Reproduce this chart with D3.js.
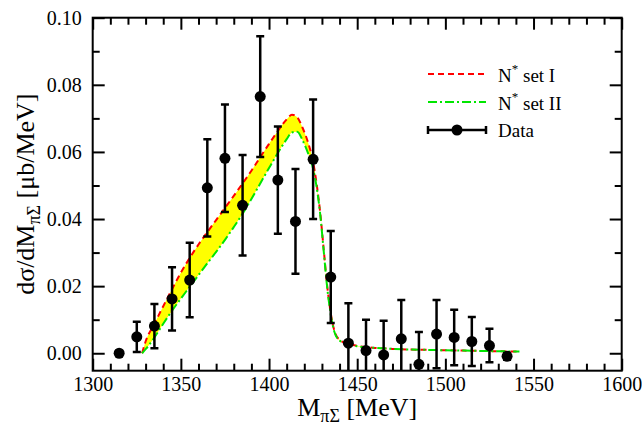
<!DOCTYPE html>
<html>
<head>
<meta charset="utf-8">
<script src="https://cdn.jsdelivr.net/npm/d3@7"></script>
<style>
  html, body { margin: 0; padding: 0; background: #fff; }
  svg { display: block; }
  svg text { font-family: "Liberation Serif", "Times New Roman", serif; fill: #000; }
</style>
</head>
<body>
<svg id="chart" width="642" height="433"></svg>
<script>
// Invariant-mass grid for the model curves (MeV)
const massGrid = [1328, 1330, 1335, 1340, 1345, 1350, 1355, 1360, 1365, 1370, 1375, 1380, 1385,
  1390, 1395, 1400, 1405, 1410, 1413, 1416, 1419, 1422, 1425, 1427, 1429, 1431, 1433, 1435,
  1437, 1440, 1445, 1450, 1460, 1470, 1480, 1490, 1500, 1510, 1520, 1530, 1542];

// N* set I (upper edge of the band)
const setI = [0, 0.0035, 0.0088, 0.0140, 0.0191, 0.0240, 0.0284, 0.0324, 0.0361, 0.0397, 0.0433,
  0.0469, 0.0506, 0.0544, 0.0584, 0.0624, 0.0662, 0.0697, 0.0711, 0.0703, 0.0672, 0.0630, 0.0570,
  0.0505, 0.0420, 0.0310, 0.0200, 0.0120, 0.0068, 0.0040, 0.0028, 0.0022, 0.0016, 0.0013, 0.0011,
  0.0010, 0.0009, 0.0008, 0.0007, 0.0006, 0.0005];

// N* set II (lower edge of the band)
const setII = [0, 0.0012, 0.0047, 0.0088, 0.0127, 0.0163, 0.0198, 0.0233, 0.0268, 0.0302, 0.0338,
  0.0376, 0.0416, 0.0460, 0.0506, 0.0552, 0.0597, 0.0638, 0.0658, 0.0660, 0.0635, 0.0598, 0.0550,
  0.0495, 0.0415, 0.0305, 0.0195, 0.0115, 0.0065, 0.0038, 0.0027, 0.0021, 0.0016, 0.0013, 0.0011,
  0.0010, 0.0009, 0.0008, 0.0007, 0.0006, 0.0005];

// Measured spectrum: bin centres, values and errors
const dataMass = [1315, 1325, 1335, 1345, 1355, 1365, 1375, 1385, 1395, 1405, 1415, 1425, 1435,
  1445, 1455, 1465, 1475, 1485, 1495, 1505, 1515, 1525, 1535];
const dataValue = [0.0000, 0.0049, 0.0081, 0.0162, 0.0218, 0.0493, 0.0581, 0.0441, 0.0765, 0.0516,
  0.0393, 0.0578, 0.0227, 0.0030, 0.0008, -0.0005, 0.0043, -0.0033, 0.0057, 0.0047, 0.0035,
  0.0023, -0.0009];
const dataError = [0.0000, 0.0045, 0.0066, 0.0094, 0.0111, 0.0145, 0.0160, 0.0150, 0.0180, 0.0160,
  0.0156, 0.0178, 0.0137, 0.0119, 0.0092, 0.0102, 0.0116, 0.0096, 0.0102, 0.0083, 0.0073,
  0.0050, 0.0010];

// Axis ticks
const xMajor = [1300, 1350, 1400, 1450, 1500, 1550, 1600];
const xMinor = [1310, 1320, 1330, 1340, 1360, 1370, 1380, 1390, 1410, 1420, 1430, 1440, 1460,
  1470, 1480, 1490, 1510, 1520, 1530, 1540, 1560, 1570, 1580, 1590];
const yMajor = [0.00, 0.02, 0.04, 0.06, 0.08, 0.10];
const yMinor = [0.01, 0.03, 0.05, 0.07, 0.09];

const svg = d3.select("#chart");
const pLeft = 92.7, pRight = 621.7, pTop = 17.7, pBottom = 370.7;

const x = d3.scaleLinear().domain([1300, 1600]).range([pLeft, pRight]);
const y = d3.scaleLinear().domain([-0.0052, 0.10]).range([pBottom, pTop]);

svg.append("defs").append("clipPath").attr("id", "plotClip")
  .append("rect").attr("x", pLeft).attr("y", pTop)
  .attr("width", pRight - pLeft).attr("height", pBottom - pTop);

const plot = svg.append("g").attr("clip-path", "url(#plotClip)");

const band = massGrid.map((m, i) => ({ m, hi: setI[i], lo: setII[i] }));

// Yellow band between the two parameter sets
plot.append("path")
  .datum(band)
  .attr("fill", "#ffff00")
  .attr("d", d3.area().curve(d3.curveMonotoneX)
    .x(d => x(d.m)).y0(d => y(d.lo)).y1(d => y(d.hi)));

const line = key => d3.line().curve(d3.curveMonotoneX).x(d => x(d.m)).y(d => y(d[key]));

plot.append("path").datum(band)
  .attr("fill", "none").attr("stroke", "#ff0000").attr("stroke-width", 2)
  .attr("stroke-dasharray", "6,4")
  .attr("d", line("hi"));

plot.append("path").datum(band)
  .attr("fill", "none").attr("stroke", "#00e600").attr("stroke-width", 2)
  .attr("stroke-dasharray", "9,3,2,3")
  .attr("d", line("lo"));

// Data points with error bars
const pts = dataMass.map((m, i) => ({ m, v: dataValue[i], e: dataError[i] }));
const pg = plot.append("g").selectAll("g").data(pts).join("g");
const cap = 4;
const withErr = pg.filter(d => d.e > 0);
withErr.append("line")
  .attr("x1", d => x(d.m)).attr("x2", d => x(d.m))
  .attr("y1", d => y(d.v - d.e)).attr("y2", d => y(d.v + d.e))
  .attr("stroke", "#000").attr("stroke-width", 2.5);
withErr.append("line")
  .attr("x1", d => x(d.m) - cap).attr("x2", d => x(d.m) + cap)
  .attr("y1", d => y(d.v + d.e)).attr("y2", d => y(d.v + d.e))
  .attr("stroke", "#000").attr("stroke-width", 2.5);
withErr.append("line")
  .attr("x1", d => x(d.m) - cap).attr("x2", d => x(d.m) + cap)
  .attr("y1", d => y(d.v - d.e)).attr("y2", d => y(d.v - d.e))
  .attr("stroke", "#000").attr("stroke-width", 2.5);
pg.append("circle")
  .attr("cx", d => x(d.m)).attr("cy", d => y(d.v)).attr("r", 5.5)
  .attr("fill", "#000");

// Axes: inward ticks on all four sides
function styleAxis(g) {
  g.attr("font-family", null).attr("font-size", null);
  g.select(".domain").remove();
  g.selectAll(".tick line").attr("stroke", "#000").attr("stroke-width", 2);
  g.selectAll(".tick text").style("font-size", "20px");
}

svg.append("g").attr("transform", `translate(0,${pBottom})`)
  .call(d3.axisBottom(x).tickValues(xMajor).tickSize(-12).tickPadding(6)
    .tickFormat(d3.format("d")))
  .call(styleAxis);
svg.append("g").attr("transform", `translate(0,${pBottom})`)
  .call(d3.axisBottom(x).tickValues(xMinor).tickSize(-7).tickFormat(""))
  .call(styleAxis);
svg.append("g").attr("transform", `translate(0,${pTop})`)
  .call(d3.axisTop(x).tickValues(xMajor).tickSize(-12).tickFormat(""))
  .call(styleAxis);
svg.append("g").attr("transform", `translate(0,${pTop})`)
  .call(d3.axisTop(x).tickValues(xMinor).tickSize(-7).tickFormat(""))
  .call(styleAxis);

svg.append("g").attr("transform", `translate(${pLeft},0)`)
  .call(d3.axisLeft(y).tickValues(yMajor).tickSize(-12).tickPadding(11)
    .tickFormat(d3.format(".2f")))
  .call(styleAxis);
svg.append("g").attr("transform", `translate(${pLeft},0)`)
  .call(d3.axisLeft(y).tickValues(yMinor).tickSize(-7).tickFormat(""))
  .call(styleAxis);
svg.append("g").attr("transform", `translate(${pRight},0)`)
  .call(d3.axisRight(y).tickValues(yMajor).tickSize(-12).tickFormat(""))
  .call(styleAxis);
svg.append("g").attr("transform", `translate(${pRight},0)`)
  .call(d3.axisRight(y).tickValues(yMinor).tickSize(-7).tickFormat(""))
  .call(styleAxis);

// Frame
svg.append("rect")
  .attr("x", pLeft).attr("y", pTop)
  .attr("width", pRight - pLeft).attr("height", pBottom - pTop)
  .attr("fill", "none").attr("stroke", "#000").attr("stroke-width", 2);

// Axis titles
const xt = svg.append("text").attr("x", (pLeft + pRight) / 2).attr("y", 416)
  .attr("text-anchor", "middle").style("font-size", "26px");
xt.append("tspan").text("M");
xt.append("tspan").style("font-size", "18px").attr("dy", 6).text("πΣ");
xt.append("tspan").attr("dy", -6).text(" [MeV]");

const yt = svg.append("text")
  .attr("transform", `translate(34,${(pTop + pBottom) / 2}) rotate(-90)`)
  .attr("text-anchor", "middle").style("font-size", "26px");
yt.append("tspan").text("dσ/dM");
yt.append("tspan").style("font-size", "18px").attr("dy", 6).text("πΣ");
yt.append("tspan").attr("dy", -6).text(" [μb/MeV]");

// Legend
const legend = svg.append("g");
const lx1 = 428, lx2 = 486, tx = 498;
legend.append("line").attr("x1", lx1).attr("x2", lx2).attr("y1", 74).attr("y2", 74)
  .attr("stroke", "#ff0000").attr("stroke-width", 2).attr("stroke-dasharray", "6,4");
legend.append("line").attr("x1", lx1).attr("x2", lx2).attr("y1", 102).attr("y2", 102)
  .attr("stroke", "#00e600").attr("stroke-width", 2).attr("stroke-dasharray", "9,3,2,3");
legend.append("line").attr("x1", lx1).attr("x2", lx2).attr("y1", 130).attr("y2", 130)
  .attr("stroke", "#000").attr("stroke-width", 2.5);
[lx1, lx2].forEach(cx => legend.append("line").attr("x1", cx).attr("x2", cx)
  .attr("y1", 126).attr("y2", 134).attr("stroke", "#000").attr("stroke-width", 2.5));
legend.append("circle").attr("cx", (lx1 + lx2) / 2).attr("cy", 130).attr("r", 5.5).attr("fill", "#000");

function nLabel(yb, suffix) {
  const t = legend.append("text").attr("x", tx).attr("y", yb).style("font-size", "19px");
  t.append("tspan").text("N");
  t.append("tspan").style("font-size", "13px").attr("dy", -9).text("*");
  t.append("tspan").attr("dy", 9).text(" " + suffix);
}
nLabel(82, "set I");
nLabel(110, "set II");
legend.append("text").attr("x", tx).attr("y", 137).style("font-size", "19px").text("Data");
</script>
</body>
</html>
